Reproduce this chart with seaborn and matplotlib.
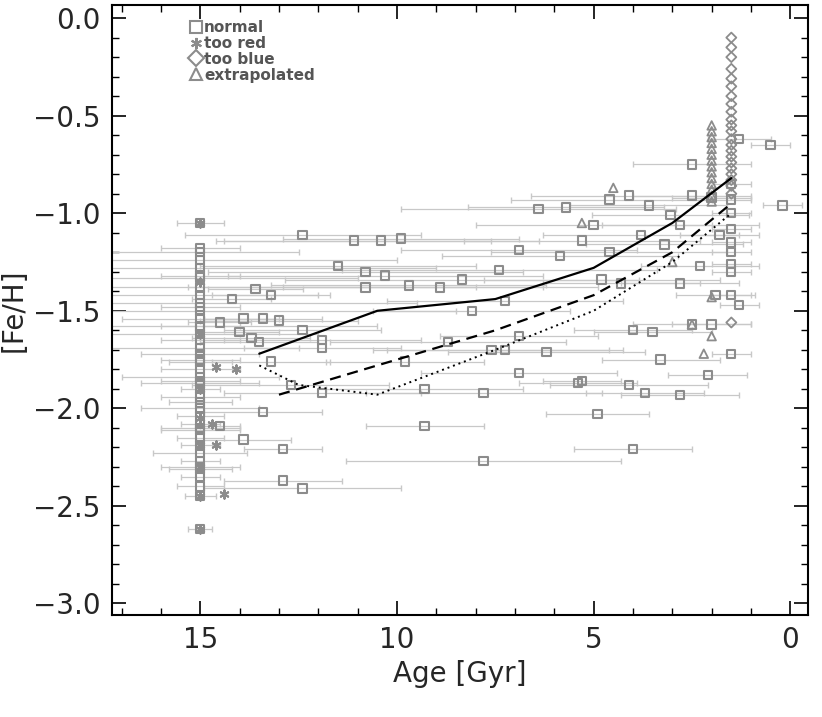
import matplotlib
matplotlib.use('Agg')
import matplotlib.pyplot as plt
import seaborn as sns
import numpy as np
import pandas as pd

sns.set_theme(style='ticks')
plt.rcParams['font.family'] = ['DejaVu Sans']

# "normal" clusters with horizontal age errors
norm_age = [12.4, 10.4, 11.1, 9.9, 11.5, 10.8, 10.8, 10.3, 9.7, 8.9, 8.35, 7.25, 7.4, 6.9, 6.4,
            5.7, 5.0, 4.6, 4.1, 3.6, 2.5, 2.0, 1.3, 0.5, 0.2, 14.2, 14.5, 13.9, 13.4, 13.6,
            13.2, 13.0, 12.4, 11.9, 11.9, 14.0, 13.7, 13.5, 13.2, 11.9, 12.7, 13.4, 14.5, 13.9,
            12.9, 12.9, 12.4, 7.8, 9.3, 9.3, 7.8, 9.8, 8.7, 7.6, 6.9, 7.25, 6.9, 6.2, 5.4,
            4.9, 5.3, 4.1, 3.7, 2.8, 2.1, 3.3, 2.5, 2.0, 4.0, 3.5, 4.3, 2.8, 2.3, 1.9, 4.0,
            8.1, 4.8, 5.85, 5.3, 4.6, 3.8, 3.2, 3.05, 2.5, 2.8, 1.8, 1.3]
norm_feh = [-1.11, -1.14, -1.14, -1.13, -1.27, -1.30, -1.38, -1.32, -1.37, -1.38, -1.34, -1.45,
            -1.29, -1.19, -0.98, -0.97, -1.06, -0.93, -0.91, -0.96, -0.75, -0.92, -0.62, -0.65,
            -0.96, -1.44, -1.56, -1.54, -1.54, -1.39, -1.42, -1.55, -1.60, -1.65, -1.69, -1.61,
            -1.64, -1.66, -1.76, -1.92, -1.88, -2.02, -2.09, -2.16, -2.21, -2.37, -2.41, -2.27,
            -2.09, -1.90, -1.92, -1.76, -1.66, -1.70, -1.82, -1.70, -1.63, -1.71, -1.87, -2.03,
            -1.86, -1.88, -1.92, -1.93, -1.83, -1.75, -1.57, -1.57, -1.60, -1.61, -1.36, -1.36,
            -1.27, -1.42, -2.21, -1.50, -1.34, -1.22, -1.14, -1.20, -1.11, -1.16, -1.01, -0.91,
            -1.06, -1.11, -1.47]
norm_err = [3.0, 4.0, 3.5, 3.0, 3.5, 4.0, 4.5, 4.0, 3.5, 4.0, 4.5, 3.0, 4.0, 3.0, 3.5,
            2.5, 3.0, 2.5, 2.5, 2.0, 1.5, 1.0, 0.8, 0.5, 0.5, 1.0, 0.8, 1.0, 1.5, 1.2,
            1.5, 2.0, 2.0, 2.5, 2.0, 1.0, 1.5, 1.5, 1.5, 2.5, 2.5, 1.5, 0.5, 1.2,
            1.0, 1.5, 2.5, 3.5, 1.5, 2.5, 3.0, 2.0, 3.0, 3.0, 2.5, 3.0, 2.0, 2.5, 1.5,
            1.3, 1.0, 2.0, 1.5, 1.5, 1.0, 1.5, 1.5, 1.0, 1.5, 1.5, 2.0, 1.5, 1.5, 1.0, 1.5,
            2.5, 3.0, 3.0, 3.0, 3.0, 2.5, 2.0, 2.0, 1.5, 2.0, 1.0, 0.5]

# dense columns at the age limits
col15_feh = [-1.05, -1.20, -1.24, -1.28, -1.33, -1.38, -1.42, -1.46, -1.50, -1.54, -1.58, -1.62,
             -1.65, -1.69, -1.72, -1.76, -1.80, -1.84, -1.87, -1.90, -1.94, -1.97, -2.00, -2.04,
             -2.08, -2.11, -2.15, -2.19, -2.23, -2.27, -2.31, -2.35, -2.40, -2.45, -2.62]
col15_err = [0.6, 2.5, 5.0, 6.0, 4.0, 7.0, 3.0, 5.5, 6.5, 2.0, 4.5, 3.0,
             1.0, 2.5, 1.5, 0.8, 1.0, 2.0, 1.5, 0.5, 1.0, 0.8, 1.5, 0.6,
             0.5, 1.0, 0.6, 0.5, 1.2, 0.5, 0.8, 0.5, 0.6, 0.4, 0.3]
col15_red = [-1.05, -1.35, -1.62, -1.90, -2.05, -2.19, -2.30, -2.45, -2.62]
red_age = [14.6, 14.1, 14.6, 14.4, 14.7]
red_feh = [-1.79, -1.80, -2.19, -2.44, -2.08]
col15_sq = [-1.18, -1.32, -1.48, -1.58, -1.75, -1.86, -2.10, -2.30]

blue_age = [1.5] * 22 + [1.5]
blue_feh = [-0.10, -0.15, -0.20, -0.26, -0.31, -0.35, -0.40, -0.44, -0.48, -0.52, -0.55, -0.58,
            -0.62, -0.65, -0.68, -0.71, -0.74, -0.77, -0.80, -0.83, -0.86, -0.90, -1.56]
col15b_sq = [-0.85, -0.93, -1.00, -1.08, -1.15, -1.20, -1.26, -1.30, -1.42, -1.72]

tri_age = [2.0] * 14 + [2.0, 2.0, 2.5, 3.0, 4.5, 5.3, 2.2]
tri_feh = [-0.55, -0.58, -0.61, -0.64, -0.67, -0.70, -0.73, -0.76, -0.79, -0.82, -0.85, -0.88,
           -0.91, -0.94, -1.63, -1.43, -1.57, -1.25, -0.87, -1.05, -1.72]

line_age = [13.5, 10.5, 7.5, 5.0, 3.0, 1.5]
solid_feh = [-1.72, -1.50, -1.44, -1.28, -1.05, -0.82]
dash_age = [13.0, 10.0, 7.5, 5.0, 3.0, 1.5]
dash_feh = [-1.93, -1.75, -1.60, -1.42, -1.20, -0.95]
dot_age = [13.5, 12.5, 10.5, 7.5, 5.0, 3.0, 1.5]
dot_feh = [-1.78, -1.88, -1.93, -1.70, -1.50, -1.25, -1.00]

grey = '#8c8c8c'
ecol = '#c8c8c8'

fig, ax = plt.subplots(figsize=(8.22, 7.17), dpi=100)

sq_age = norm_age + [15.0] * len(col15_sq) + [1.5] * len(col15b_sq)
sq_feh = norm_feh + col15_sq + col15b_sq
sq_err = norm_err + [1.0] * len(col15_sq) + [0.5] * len(col15b_sq)
ax.errorbar(sq_age, sq_feh, xerr=sq_err, fmt='none', ecolor=ecol, elinewidth=0.9, capsize=2, zorder=1)
ax.errorbar([15.0] * len(col15_feh), col15_feh, xerr=col15_err, fmt='none', ecolor=ecol,
            elinewidth=0.9, capsize=2, zorder=1)

df_sq = pd.DataFrame({'age': sq_age, 'feh': sq_feh})
sns.scatterplot(data=df_sq, x='age', y='feh', ax=ax, marker='s', s=36, facecolor='none',
                edgecolor=grey, linewidth=1.5, zorder=3)
ax.scatter([15.0] * len(col15_feh), col15_feh, marker='s', s=36, facecolor='none',
           edgecolor=grey, linewidth=1.5, zorder=3)
ax.scatter([15.0] * len(col15_red) + red_age, col15_red + red_feh, marker=(6, 2, 0), s=36,
           color=grey, linewidth=1.5, zorder=3)
ax.scatter(blue_age, blue_feh, marker='D', s=26, facecolor='none', edgecolor=grey,
           linewidth=1.3, zorder=3)
ax.scatter(tri_age, tri_feh, marker='^', s=38, facecolor='none', edgecolor=grey,
           linewidth=1.3, zorder=3)

ax.plot(line_age, solid_feh, color='black', lw=1.6, zorder=4)
ax.plot(dash_age, dash_feh, color='black', lw=1.6, ls=(0, (5, 3)), zorder=4)
ax.plot(dot_age, dot_feh, color='black', lw=1.4, ls=(0, (1, 2)), zorder=4)

# legend
h = [plt.Line2D([], [], ls='none', marker=m, mfc='none', mec=grey, ms=8, mew=1.5)
     for m in ['s', (6, 2, 0), 'D', '^']]
h[1].set_color(grey)
leg = ax.legend(h, ['normal', 'too red', 'too blue', 'extrapolated'], loc='upper left',
                bbox_to_anchor=(0.095, 0.995), frameon=False, handlelength=0.7,
                handletextpad=0.2, labelspacing=0.05, borderaxespad=0.4,
                prop={'size': 11, 'weight': 'bold'})
for t in leg.get_texts():
    t.set_color('#555555')

ax.set_xlim(17.25, -0.45)
ax.set_ylim(-3.06, 0.067)
ax.set_xticks([15, 10, 5, 0])
ax.set_yticks([0.0, -0.5, -1.0, -1.5, -2.0, -2.5, -3.0])
ax.set_yticklabels(['0.0', '\u22120.5', '\u22121.0', '\u22121.5', '\u22122.0', '\u22122.5', '\u22123.0'])
ax.xaxis.set_minor_locator(matplotlib.ticker.MultipleLocator(1))
ax.yaxis.set_minor_locator(matplotlib.ticker.MultipleLocator(0.1))
ax.tick_params(which='both', direction='in', top=True, right=True, color='black')
ax.tick_params(which='major', length=10, width=1.2, labelsize=20, pad=8)
ax.tick_params(which='minor', length=5, width=1)
for s in ax.spines.values():
    s.set_linewidth(1.5)
    s.set_color('black')
ax.set_xlabel('Age [Gyr]', fontsize=20)
ax.set_ylabel('[Fe/H]', fontsize=20)
fig.subplots_adjust(left=0.136, right=0.983, top=0.993, bottom=0.142)
fig.savefig('out.png', dpi=100)
